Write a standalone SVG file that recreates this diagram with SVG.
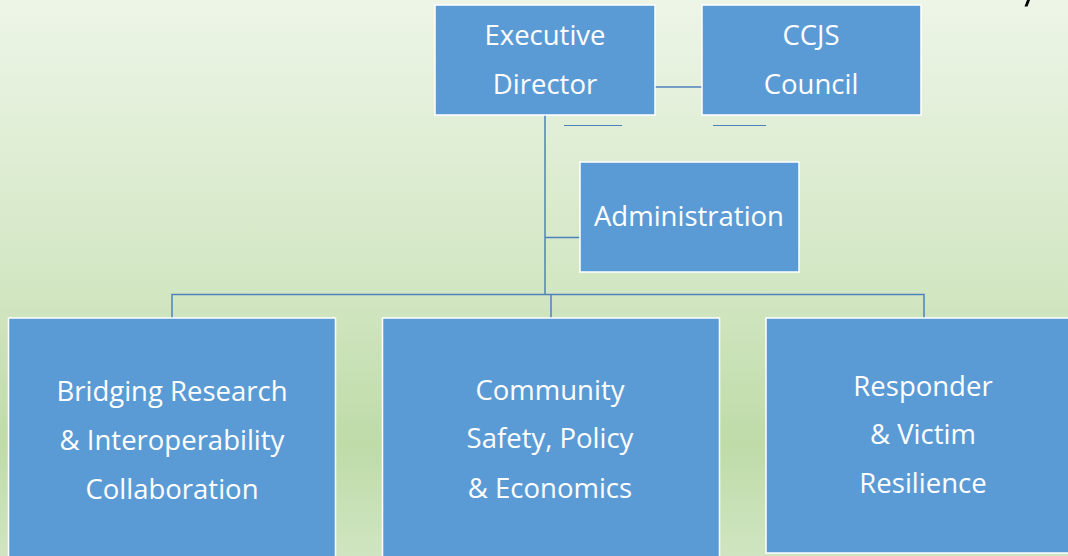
<svg xmlns="http://www.w3.org/2000/svg" width="1068" height="556" viewBox="0 0 1068 556">
  <defs>
    <linearGradient id="bg" x1="0" y1="0" x2="0" y2="1">
      <stop offset="0" stop-color="#edf5e7"/>
      <stop offset="0.5" stop-color="#d3e7c4"/>
      <stop offset="0.8" stop-color="#bfdba8"/>
      <stop offset="1" stop-color="#cfe5c1"/>
    </linearGradient>
  </defs>
  <style>
    .box { fill: #5b9bd5; stroke: #ffffff; stroke-width: 1.5; }
    .lbl { font-family: "Open Sans", "Liberation Sans", sans-serif; font-size: 27.5px; fill: #ffffff; text-anchor: middle; }
    .conn { stroke: #4f81bd; stroke-width: 1.5; fill: none; }
    .thin { stroke: #4f81bd; stroke-width: 1.2; fill: none; }
  </style>
  <rect x="0" y="0" width="1068" height="556" fill="url(#bg)"/>
  <polygon points="1027,0 1030,0 1027.5,6.5 1024.5,6.5" fill="#000000"/>

  <g id="connectors">
    <line class="conn" x1="655" y1="87" x2="702" y2="87"/>
    <line class="thin" x1="564" y1="125.5" x2="622" y2="125.5"/>
    <line class="thin" x1="713" y1="125.5" x2="766" y2="125.5"/>
    <line class="conn" x1="545" y1="115" x2="545" y2="295"/>
    <line class="conn" x1="545" y1="237.5" x2="580" y2="237.5"/>
    <polyline class="conn" points="172,318 172,294.5 924,294.5 924,318"/>
    <line class="conn" x1="551" y1="294.5" x2="551" y2="318"/>
  </g>

  <g id="executive-director">
    <rect class="box" x="435" y="5" width="220" height="110"/>
    <text class="lbl" x="545" y="44.5">Executive</text>
    <text class="lbl" x="545" y="93.5">Director</text>
  </g>
  <g id="ccjs-council">
    <rect class="box" x="702" y="5" width="219" height="110"/>
    <text class="lbl" x="811" y="44.5">CCJS</text>
    <text class="lbl" x="811" y="93.5">Council</text>
  </g>
  <g id="administration">
    <rect class="box" x="580" y="162" width="219" height="110"/>
    <text class="lbl" x="689" y="225.5">Administration</text>
  </g>
  <g id="bridging-research">
    <rect class="box" x="8.5" y="318" width="327" height="245"/>
    <text class="lbl" x="172" y="400.5">Bridging Research</text>
    <text class="lbl" x="172" y="449.5">&amp; Interoperability</text>
    <text class="lbl" x="172" y="498.5">Collaboration</text>
  </g>
  <g id="community-safety">
    <rect class="box" x="382.5" y="318" width="337" height="245"/>
    <text class="lbl" x="550" y="399.5">Community</text>
    <text class="lbl" x="550" y="447.5">Safety, Policy</text>
    <text class="lbl" x="550" y="497.5">&amp; Economics</text>
  </g>
  <g id="responder-victim">
    <rect class="box" x="766" y="318" width="310" height="235"/>
    <text class="lbl" x="923" y="395.5">Responder</text>
    <text class="lbl" x="923" y="443.5">&amp; Victim</text>
    <text class="lbl" x="923" y="492.5">Resilience</text>
  </g>
</svg>
